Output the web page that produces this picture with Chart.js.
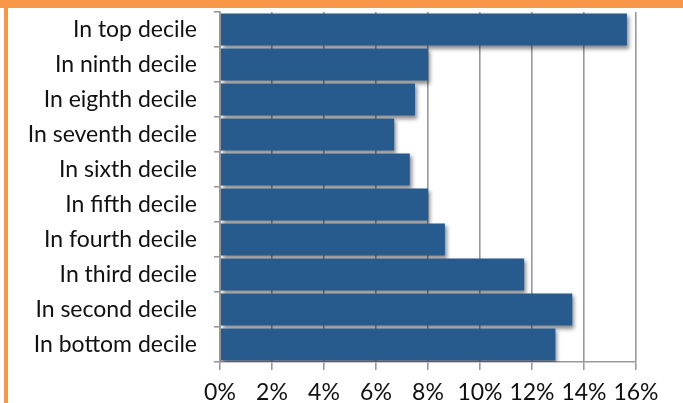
<!DOCTYPE html>
<html>
<head>
<meta charset="utf-8">
<script src="https://cdn.jsdelivr.net/npm/chart.js@4"></script>
<style>
  html, body { margin: 0; padding: 0; background: #fff; }
  #wrap { position: relative; width: 683px; height: 403px; overflow: hidden; }
  #chart { position: absolute; left: 0; top: 0; }
  .band { position: absolute; background: #F79646; }
</style>
</head>
<body>
<div id="wrap">
  <canvas id="chart" width="683" height="403"></canvas>
  <div class="band" style="left:0;top:0;width:683px;height:8px"></div>
  <div class="band" style="left:4px;top:0;width:4px;height:403px"></div>
</div>
<script>
const categories = [
    'In top decile', 'In ninth decile', 'In eighth decile', 'In seventh decile',
    'In sixth decile', 'In fifth decile', 'In fourth decile', 'In third decile',
    'In second decile', 'In bottom decile'
];
const shares = [15.65, 8.0, 7.5, 6.7, 7.3, 8.0, 8.65, 11.7, 13.55, 12.9];
const xTicks = [0, 2, 4, 6, 8, 10, 12, 14, 16];

// drop shadow under the bars
const barShadow = {
    id: 'barShadow',
    beforeDatasetsDraw(chart) {
        const c = chart.ctx;
        c.save();
        c.shadowColor = 'rgba(0,0,0,0.45)';
        c.shadowBlur = 4;
        c.shadowOffsetX = 2;
        c.shadowOffsetY = 3;
    },
    afterDatasetsDraw(chart) {
        chart.ctx.restore();
    }
};

const font = { family: 'Lato, "Open Sans", sans-serif', size: 23 };

new Chart(document.getElementById('chart'), {
    type: 'bar',
    data: {
        labels: categories,
        datasets: [{
            data: shares,
            backgroundColor: '#275B8E',
            borderWidth: 0,
            barPercentage: 0.92,
            categoryPercentage: 1
        }]
    },
    options: {
        indexAxis: 'y',
        responsive: false,
        animation: false,
        layout: { padding: { top: 12, right: 47, left: 0, bottom: 0 } },
        plugins: { legend: { display: false }, tooltip: { enabled: false } },
        scales: {
            x: {
                min: 0,
                max: 16,
                afterBuildTicks: s => { s.ticks = xTicks.map(v => ({ value: v })); },
                afterFit: s => { s.height = 41; },
                ticks: {
                    color: '#111',
                    font: font,
                    padding: 9,
                    callback: v => v + '%'
                },
                grid: { color: '#999', lineWidth: 1.6, tickLength: 8 },
                border: { color: '#999', width: 1.6 }
            },
            y: {
                afterFit: s => {
                    s.width = 220;
                    s.paddingTop = 0;
                    s.paddingBottom = 0;
                },
                ticks: { color: '#111', font: font, padding: 17 },
                grid: { drawOnChartArea: false, color: '#999', lineWidth: 1.6, tickLength: 6, offset: true },
                border: { color: '#999', width: 1.6 }
            }
        }
    },
    plugins: [barShadow]
});
</script>
</body>
</html>
